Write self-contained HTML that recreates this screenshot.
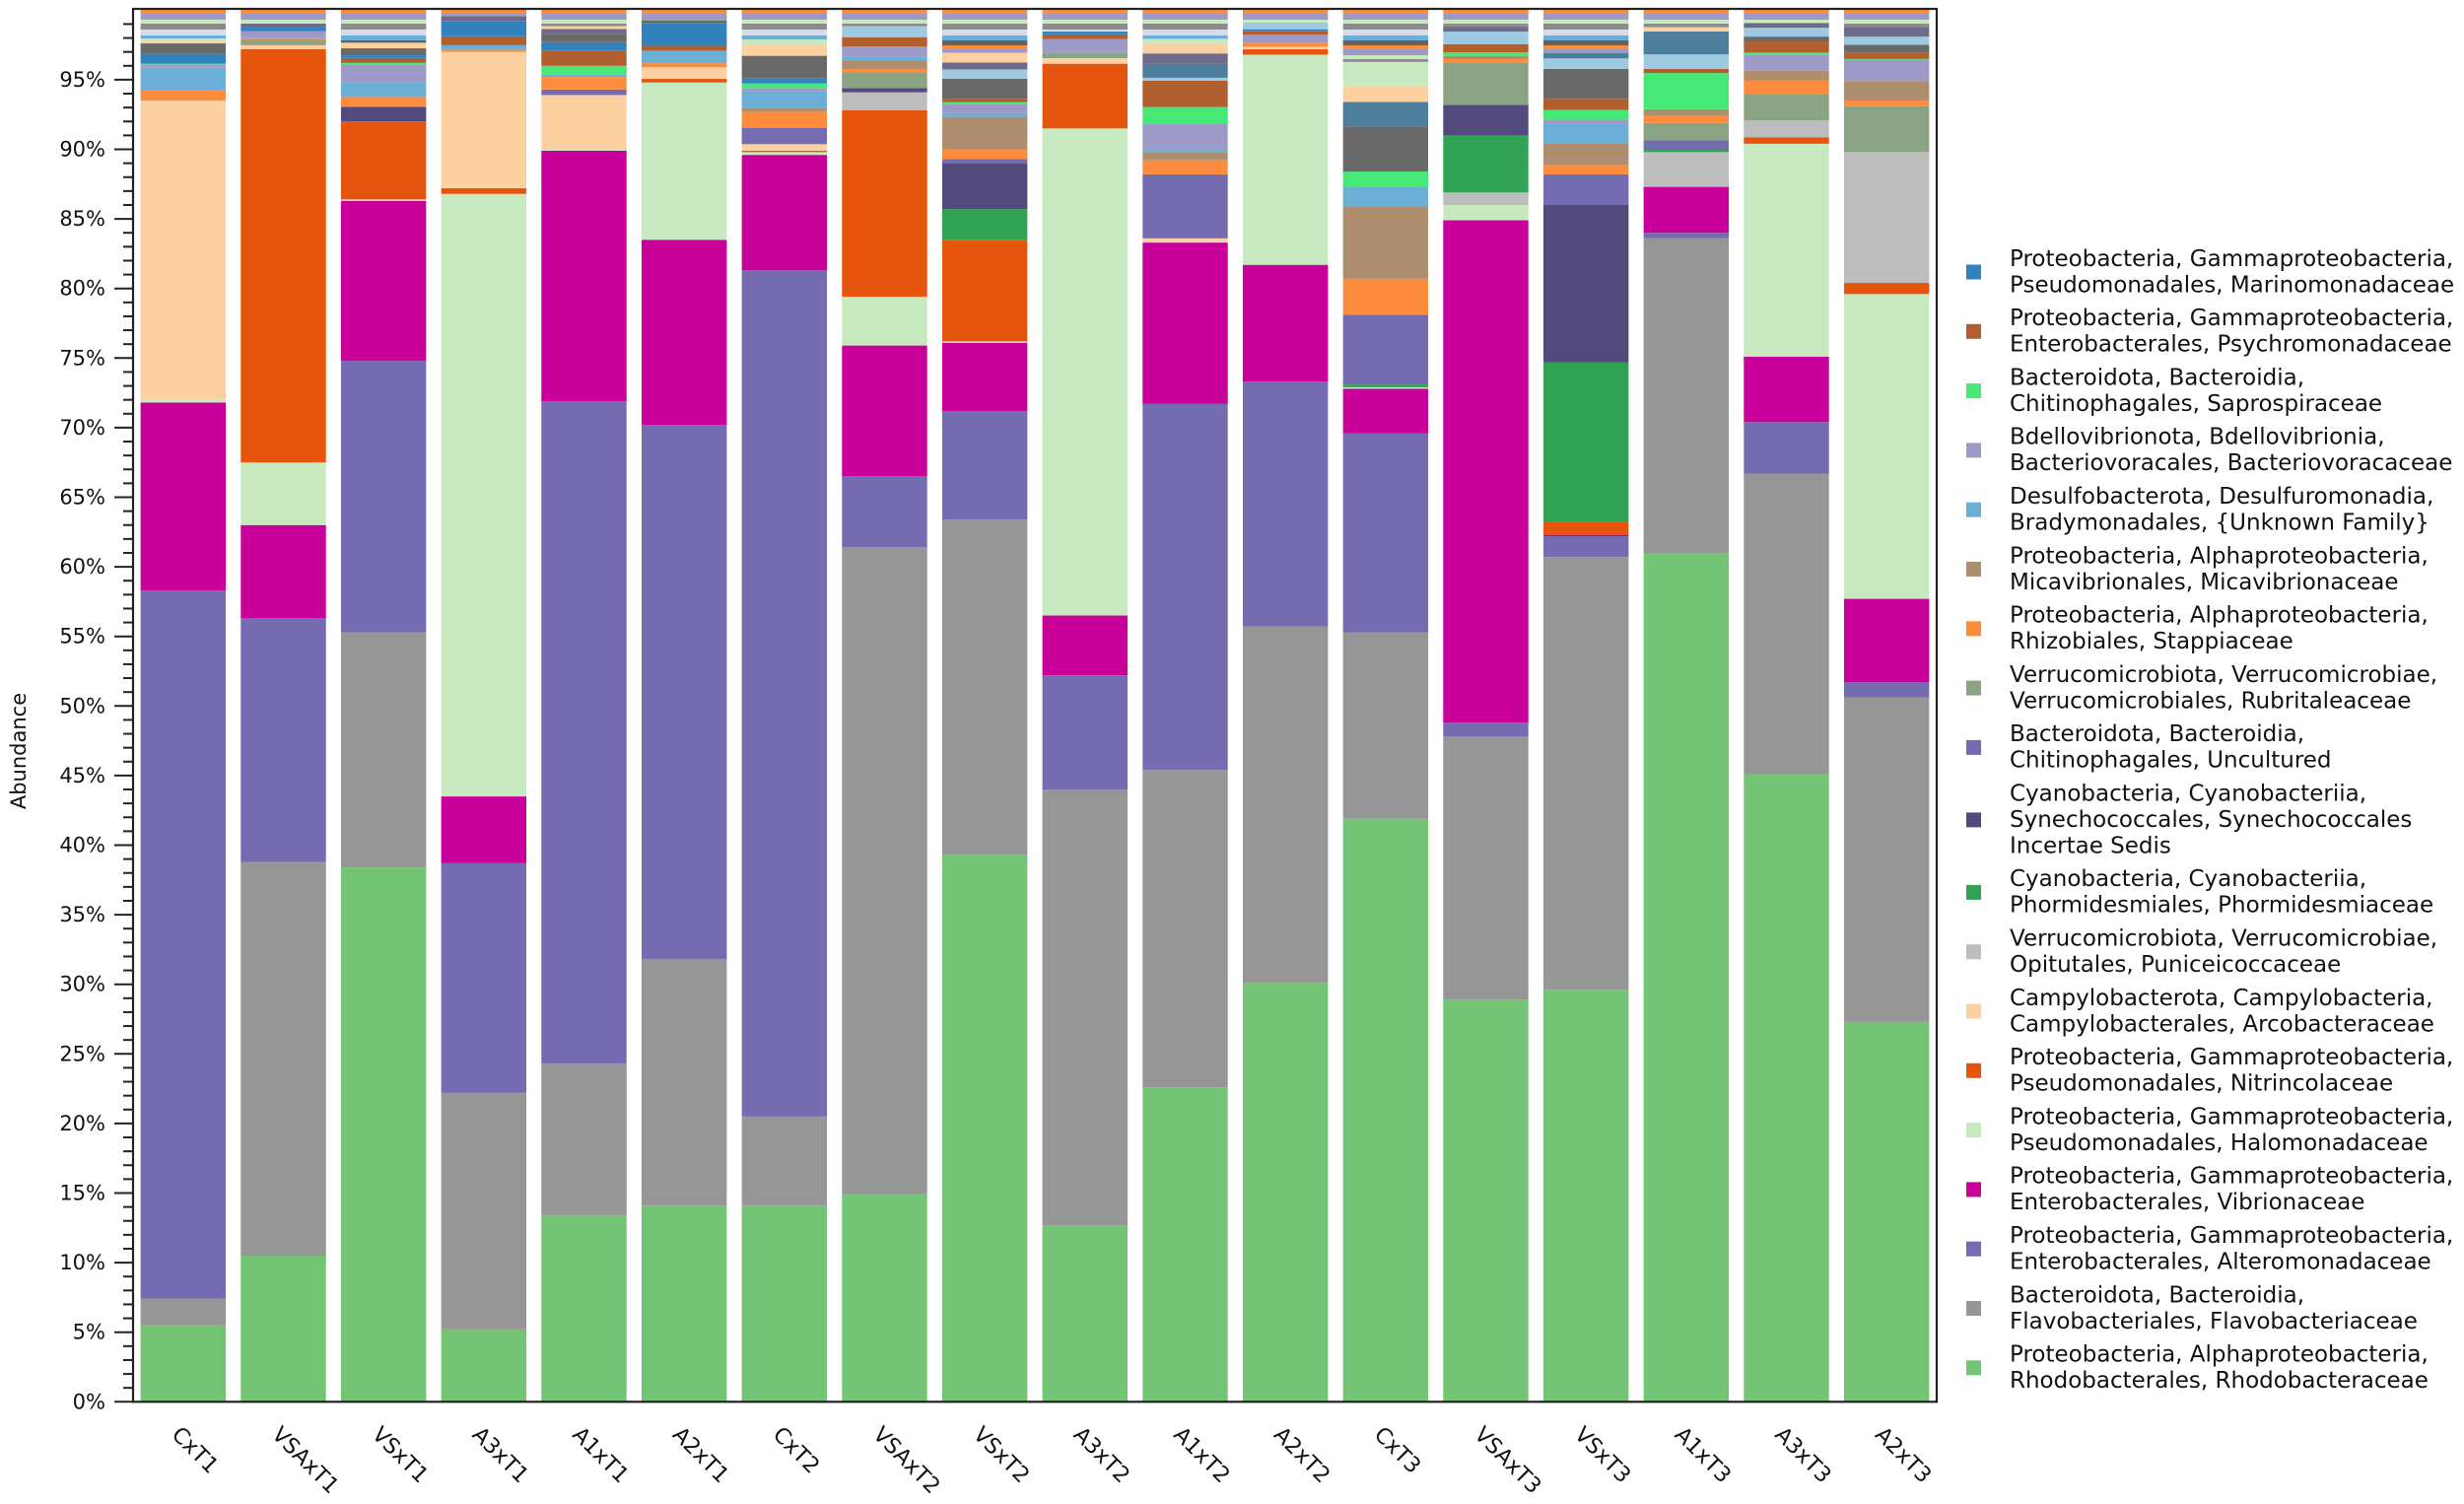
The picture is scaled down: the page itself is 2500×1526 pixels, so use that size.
<!DOCTYPE html>
<html><head><meta charset="utf-8"><style>
html,body{margin:0;padding:0;background:#fff;}
svg{display:block;font-family:"DejaVu Sans","Liberation Sans",sans-serif;}
</style></head><body>
<svg id="chart" width="2500" height="1526" viewBox="0 0 2500 1526" xmlns="http://www.w3.org/2000/svg">
<defs>
<pattern id="misc" patternUnits="userSpaceOnUse" width="20" height="36">
<rect x="0" y="0" width="20" height="5" fill="#6baed6"/>
<rect x="0" y="5" width="20" height="5" fill="#636363"/>
<rect x="0" y="10" width="20" height="4" fill="#fd8d3c"/>
<rect x="0" y="14" width="20" height="6" fill="#9e9ac8"/>
<rect x="0" y="20" width="20" height="4" fill="#c7e9c0"/>
<rect x="0" y="24" width="20" height="6" fill="#8c8c8c"/>
<rect x="0" y="30" width="20" height="6" fill="#dadaeb"/>
</pattern>
</defs>
<g id="bars"></g>
<g id="axes"></g>
<g id="legend"></g>
</svg>
<script>
const categories = ["CxT1","VSAxT1","VSxT1","A3xT1","A1xT1","A2xT1","CxT2","VSAxT2","VSxT2","A3xT2","A1xT2","A2xT2","CxT3","VSAxT3","VSxT3","A1xT3","A3xT3","A2xT3"];
const rhodo   = [5.5,10.5,38.4,5.2,13.4,14.1,14.1,14.9,39.3,12.7,22.6,30.1,41.9,28.9,29.6,61.0,45.1,27.3];
const flavo   = [1.9,28.3,16.9,17.0,10.9,17.7,6.4,46.5,24.1,31.3,22.8,25.6,13.4,18.9,31.1,22.6,21.6,23.3];
const altero  = [50.9,17.5,19.5,16.5,47.6,38.4,60.8,5.1,7.8,8.2,26.3,17.6,14.3,1.0,1.5,0.4,3.7,1.1];
const vibrio  = [13.5,6.7,11.5,4.8,18.0,13.3,8.3,9.4,4.9,4.3,11.6,8.4,3.2,36.1,0.1,3.3,4.7,6.0];
const halo    = [0.2,4.5,0.1,43.3,0.1,11.3,0.2,3.5,0.1,35.0,0.1,15.1,0.1,1.1,0,0,15.3,21.9];
const nitrin  = [0,29.7,5.6,0.4,0,0.26,0.1,13.4,7.3,4.65,0,0.4,0,0,0.9,0,0.47,0.8];
const arco    = [21.5,0.28,0,9.8,3.9,0.83,0.47,0,0,0.4,0.2,0.15,0,0,0,0,0,0];
const punic   = [0,0,0,0,0,0,0,1.3,0,0,0,0,0,0.9,0,2.5,1.2,9.4];
const phormid = [0,0,0,0,0,0,0,0,2.2,0,0,0,0.2,4.1,11.5,0.2,0,0];
const synech  = [0,0,1.06,0,0,0,0,0.3,3.3,0,0,0,0,2.2,11.3,0,0,0];
const chitunc = [0,0,0,0,0.4,0,1.18,0,0.3,0,4.6,0,5.0,0,2.2,0.64,0,0];
const rubri   = [0,0.38,0,0,0,0,0,1.13,0,0.38,0,0,0,3.0,0,1.25,1.9,3.3];
const stapp   = [0.73,0.12,0.7,0.15,0.9,0.3,1.18,0.24,0.7,0,1.0,0.33,2.6,0.28,0.7,0.52,0.96,0.4];
const micavib = [0,0,0,0,0,0,0.26,0.6,2.33,0,0.6,0,5.2,0.24,1.53,0.47,0.71,1.41];
const unknown = [1.63,0,1.05,0.33,0.2,0.9,1.18,0.28,0.28,0,0.24,0,1.4,0,1.4,0,0,0];
const bacvor  = [0.2,0.5,1.25,0,0,0,0.24,0.75,0.66,1.0,1.77,0.55,0,0,0.3,0,1.15,1.53];
const sapro   = [0.1,0,0.15,0,0.6,0,0.33,0,0.12,0,1.23,0,1.1,0.24,0.7,2.6,0.16,0.05];
const psychro = [0,0,0.35,0.64,1.1,0.35,0,0.66,0.24,0.33,1.9,0.28,0,0.6,0.8,0.3,0.8,0.47];
const marino  = [0.7,0.3,0.2,1.1,0.6,1.65,0.38,0,0,0.2,0,0.12,0,0,0,0,0,0];
const oDark   = [0.75,0,0.5,0,0.6,0.2,1.6,0,1.45,0,0,0,3.24,0,2.15,0,0.35,0.55];
const oLBlue  = [0,0,0,0,0,0,0,0.78,0.66,0,0.2,0.47,0,0.9,0.75,1.04,0.63,0.58];
const oSlate  = [0,0,0,0,0,0,0,0,0,0,1.0,0,1.77,0,0.4,1.65,0,0];
const oSlateP = [0,0.25,0,0.35,0.35,0,0,0,0.5,0,0.75,0,0,0.35,0,0,0.35,0.7];
const oPeach  = [0.2,0,0.4,0,0.2,0,0.78,0,0.7,0,0.7,0,1.1,0,0,0.3,0,0];
const oHalo   = [0.15,0,0,0,0,0,0.4,0,0,0,0.35,0,1.77,0,0,0,0,0];
const yTicks = [0,5,10,15,20,25,30,35,40,45,50,55,60,65,70,75,80,85,90,95];

const seriesList = [
 ["rhodobacteraceae",rhodo,"#74c476"],["flavobacteriaceae",flavo,"#969696"],["alteromonadaceae",altero,"#756bb1"],
 ["vibrionaceae",vibrio,"#c9009a"],["halomonadaceae",halo,"#c7e9c0"],["nitrincolaceae",nitrin,"#e6550d"],
 ["arcobacteraceae",arco,"#fdd0a2"],["puniceicoccaceae",punic,"#bdbdbd"],["phormidesmiaceae",phormid,"#31a354"],
 ["synechococcales",synech,"#524a7c"],["chitinophagales-uncultured",chitunc,"#756bb1"],["rubritaleaceae",rubri,"#8aa383"],
 ["stappiaceae",stapp,"#fd8d3c"],["micavibrionaceae",micavib,"#ae8e6e"],["unknown-family",unknown,"#6baed6"],
 ["bacteriovoracaceae",bacvor,"#9e9ac8"],["saprospiraceae",sapro,"#46e876"],["psychromonadaceae",psychro,"#b15f2e"],
 ["marinomonadaceae",marino,"#3182bd"],["other-dark",oDark,"#696969"],["other-lightblue",oLBlue,"#9ecae1"],
 ["other-slate",oSlate,"#4d7e9b"],["other-slatepurple",oSlateP,"#6e6a8a"],["other-peach",oPeach,"#fdd0a2"],["other-halo",oHalo,"#c7e9c0"]
];

const legendItems = [
 ["#3182bd",["Proteobacteria, Gammaproteobacteria,","Pseudomonadales, Marinomonadaceae"]],
 ["#b15f2e",["Proteobacteria, Gammaproteobacteria,","Enterobacterales, Psychromonadaceae"]],
 ["#46e876",["Bacteroidota, Bacteroidia,","Chitinophagales, Saprospiraceae"]],
 ["#9e9ac8",["Bdellovibrionota, Bdellovibrionia,","Bacteriovoracales, Bacteriovoracaceae"]],
 ["#6baed6",["Desulfobacterota, Desulfuromonadia,","Bradymonadales, {Unknown Family}"]],
 ["#ae8e6e",["Proteobacteria, Alphaproteobacteria,","Micavibrionales, Micavibrionaceae"]],
 ["#fd8d3c",["Proteobacteria, Alphaproteobacteria,","Rhizobiales, Stappiaceae"]],
 ["#8aa383",["Verrucomicrobiota, Verrucomicrobiae,","Verrucomicrobiales, Rubritaleaceae"]],
 ["#756bb1",["Bacteroidota, Bacteroidia,","Chitinophagales, Uncultured"]],
 ["#524a7c",["Cyanobacteria, Cyanobacteriia,","Synechococcales, Synechococcales","Incertae Sedis"]],
 ["#31a354",["Cyanobacteria, Cyanobacteriia,","Phormidesmiales, Phormidesmiaceae"]],
 ["#bdbdbd",["Verrucomicrobiota, Verrucomicrobiae,","Opitutales, Puniceicoccaceae"]],
 ["#fdd0a2",["Campylobacterota, Campylobacteria,","Campylobacterales, Arcobacteraceae"]],
 ["#e6550d",["Proteobacteria, Gammaproteobacteria,","Pseudomonadales, Nitrincolaceae"]],
 ["#c7e9c0",["Proteobacteria, Gammaproteobacteria,","Pseudomonadales, Halomonadaceae"]],
 ["#c9009a",["Proteobacteria, Gammaproteobacteria,","Enterobacterales, Vibrionaceae"]],
 ["#756bb1",["Proteobacteria, Gammaproteobacteria,","Enterobacterales, Alteromonadaceae"]],
 ["#969696",["Bacteroidota, Bacteroidia,","Flavobacteriales, Flavobacteriaceae"]],
 ["#74c476",["Proteobacteria, Alphaproteobacteria,","Rhodobacterales, Rhodobacteraceae"]]
];

const NS="http://www.w3.org/2000/svg";
const X0=135, X1=1965, Y0=1422.3, PXPCT=14.12, TOP=9;
const step=(X1-X0)/categories.length, bw=step*0.85;
function xc(i){return X0+step*(i+0.5);}
function yv(v){return Y0-v*PXPCT;}
function mk(tag,attrs,parent){const e=document.createElementNS(NS,tag);for(const k in attrs)e.setAttribute(k,attrs[k]);parent.appendChild(e);return e;}

const gb=document.getElementById('bars');
categories.forEach((c,i)=>{
  let cum=0;
  seriesList.forEach(s=>{
    const v=s[1][i]; if(!v) return;
    const r=mk('rect',{x:xc(i)-bw/2,y:yv(cum+v),width:bw,height:v*PXPCT,fill:s[2]},gb);
    
    
    cum+=v;
  });
  if(cum<100){
    const r=mk('rect',{x:xc(i)-bw/2,y:TOP,width:bw,height:Math.max(0,yv(cum)-TOP),fill:'url(#misc)'},gb);
    
    
  }
});

const ga=document.getElementById('axes');
mk('rect',{x:X0,y:TOP,width:X1-X0,height:Y0-TOP,fill:'none',stroke:'#222','stroke-width':2.2},ga);
for(let m=0;m<100;m++){
  const y=yv(m), major=(m%5===0);
  mk('line',{x1:major?116:125,x2:X0,y1:y,y2:y,stroke:'#222','stroke-width':2},ga);
}
yTicks.forEach(t=>{
  const tx=mk('text',{x:107,y:yv(t),'text-anchor':'end','dominant-baseline':'central','font-size':21,fill:'#111'},ga);
  tx.textContent=t+'%';
  
  
});
const yt=mk('text',{x:19,y:762,'text-anchor':'middle','dominant-baseline':'central','font-size':21,fill:'#111',transform:'rotate(-90 19 762)'},ga);
yt.textContent='Abundance';


categories.forEach((c,i)=>{
  const x=xc(i)-2, y=1446;
  const t=mk('text',{x:x,y:y,'font-size':22,fill:'#111','dominant-baseline':'hanging',transform:`rotate(45 ${x} ${y})`},ga);
  t.textContent=c;
  
  
});

const gl=document.getElementById('legend');
let my=276;
legendItems.forEach((it,k)=>{
  const n=it[1].length;
  if(k>0){ const prevN=legendItems[k-1][1].length; my+= (prevN===3||n===3)?73.5:60.3; }
  const g=mk('g',{},gl);
  
  
  mk('rect',{x:1995,y:my-7.5,width:15,height:15,fill:it[0]},g);
  it[1].forEach((line,j)=>{
    const t=mk('text',{x:2039,y:my+(j-(n-1)/2)*26.5,'dominant-baseline':'central','font-size':23,fill:'#111'},g);
    t.textContent=line;
  });
});
</script>
</body></html>
